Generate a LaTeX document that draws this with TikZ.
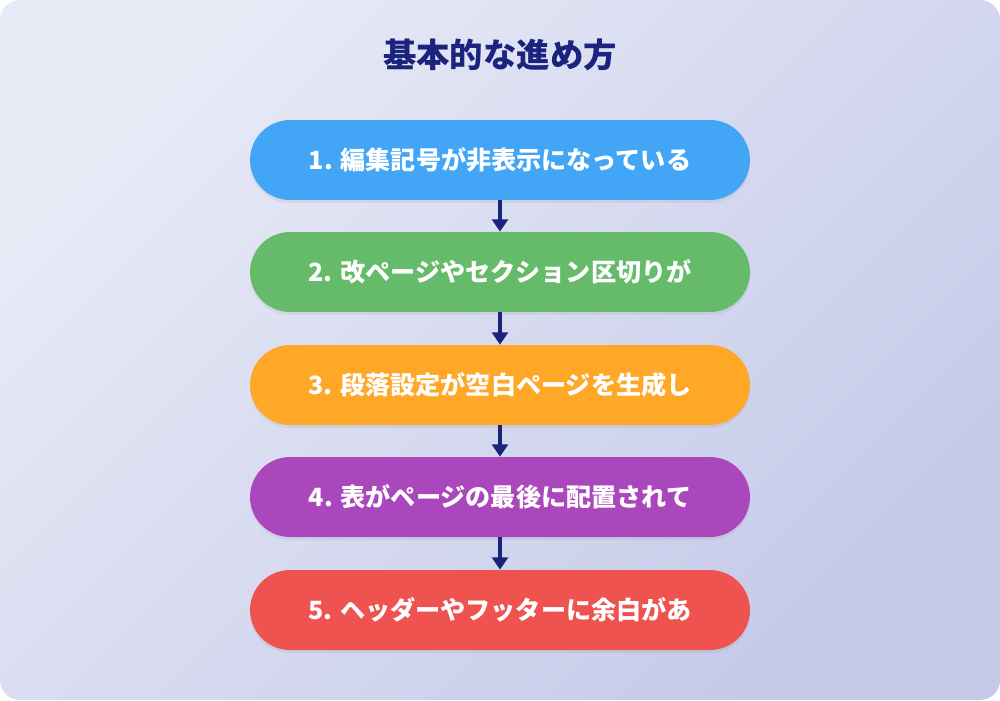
\documentclass[tikz,border=0pt]{standalone}
\usepackage{fontspec}
\newfontfamily\cjk{Noto Sans CJK JP}
\usetikzlibrary{arrows.meta,shadows}
\definecolor{bgA}{HTML}{E8EAF6}
\definecolor{bgB}{HTML}{C5CAE9}
\definecolor{navy}{HTML}{1A237E}
\definecolor{cA}{HTML}{42A5F5}
\definecolor{cB}{HTML}{66BB6A}
\definecolor{cC}{HTML}{FFA726}
\definecolor{cD}{HTML}{AB47BC}
\definecolor{cE}{HTML}{EF5350}
\tikzset{
  stepbox/.style={rounded corners=0.8cm, minimum width=10cm, minimum height=1.6cm, text=white,
    font=\cjk\bfseries\fontsize{14.3}{16}\selectfont, inner sep=0pt,
    drop shadow={shadow xshift=0pt, shadow yshift=-0.06cm, opacity=0.12}},
  flow/.style={navy, line width=2.2pt, -{Triangle[length=7pt,width=9pt]}}
}
\begin{document}
\begin{tikzpicture}[x=0.02cm,y=-0.02cm]
\useasboundingbox (0,0) rectangle (1000,700);
\shade[left color=bgA, right color=bgB, shading angle=45, rounded corners=0.4cm] (0,0) rectangle (1000,700);
\node[font=\cjk\bfseries\fontsize{19}{21}\selectfont, text=navy] (title) at (500,55) {基本的な進め方};
\node[stepbox, fill=cA] (s1) at (500,160) {1. 編集記号が非表示になっている};
\node[stepbox, fill=cB] (s2) at (500,272) {2. 改ページやセクション区切りが};
\node[stepbox, fill=cC] (s3) at (500,385) {3. 段落設定が空白ページを生成し};
\node[stepbox, fill=cD] (s4) at (500,497) {4. 表がページの最後に配置されて};
\node[stepbox, fill=cE] (s5) at (500,610) {5. ヘッダーやフッターに余白があ};
\draw[flow] (s1) -- (s2);
\draw[flow] (s2) -- (s3);
\draw[flow] (s3) -- (s4);
\draw[flow] (s4) -- (s5);
\end{tikzpicture}
\end{document}
